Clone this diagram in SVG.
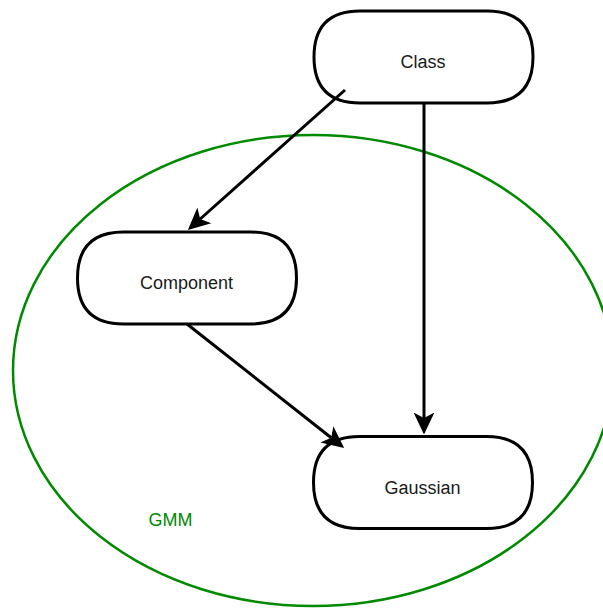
<svg xmlns="http://www.w3.org/2000/svg" xmlns:xlink="http://www.w3.org/1999/xlink" width="603" height="608" viewBox="0 0 603 608">
  <style>
    .node { fill: #ffffff; stroke: #000000; stroke-width: 3; }
    .label { font-family: "Liberation Sans", Arial, sans-serif; font-size: 18px; fill: #1a1a1a; text-anchor: middle; }
    .edge { fill: none; stroke: #000000; stroke-width: 3; marker-end: url(#arrow); }
    .group { fill: none; stroke: #008a00; stroke-width: 2.5; }
    .glabel { font-family: "Liberation Sans", Arial, sans-serif; font-size: 18px; fill: #008a00; text-anchor: middle; }
  </style>
  <defs>
    <path id="pill" d="M0,46 Q0,0 46,0 L173,0 Q219,0 219,46 Q219,92 173,92 L46,92 Q0,92 0,46 Z"/>
    <marker id="arrow" markerUnits="userSpaceOnUse" markerWidth="22" markerHeight="22" viewBox="0 0 20 20" refX="5" refY="10" orient="auto">
      <path d="M20,10 L0,0.5 L5,10 L0,19.5 Z" fill="#000000"/>
    </marker>
  </defs>
  <g id="gmm">
    <ellipse class="group" cx="313" cy="370.5" rx="300" ry="235.5"/>
    <text class="glabel" x="170.5" y="526">GMM</text>
  </g>
  <g id="class">
    <use xlink:href="#pill" href="#pill" class="node" x="314" y="11"/>
    <text class="label" x="423" y="68">Class</text>
  </g>
  <g id="component">
    <use xlink:href="#pill" href="#pill" class="node" x="77.5" y="232"/>
    <text class="label" x="186.5" y="289">Component</text>
  </g>
  <g id="gaussian">
    <use xlink:href="#pill" href="#pill" class="node" x="313.5" y="436.5"/>
    <text class="label" x="422.5" y="494">Gaussian</text>
  </g>
  <g id="connectors">
    <path class="edge" d="M345,90 L200.2,219"/>
    <path class="edge" d="M424,102 L424,418"/>
    <path class="edge" d="M187,324 L331.2,437.8"/>
  </g>
</svg>
